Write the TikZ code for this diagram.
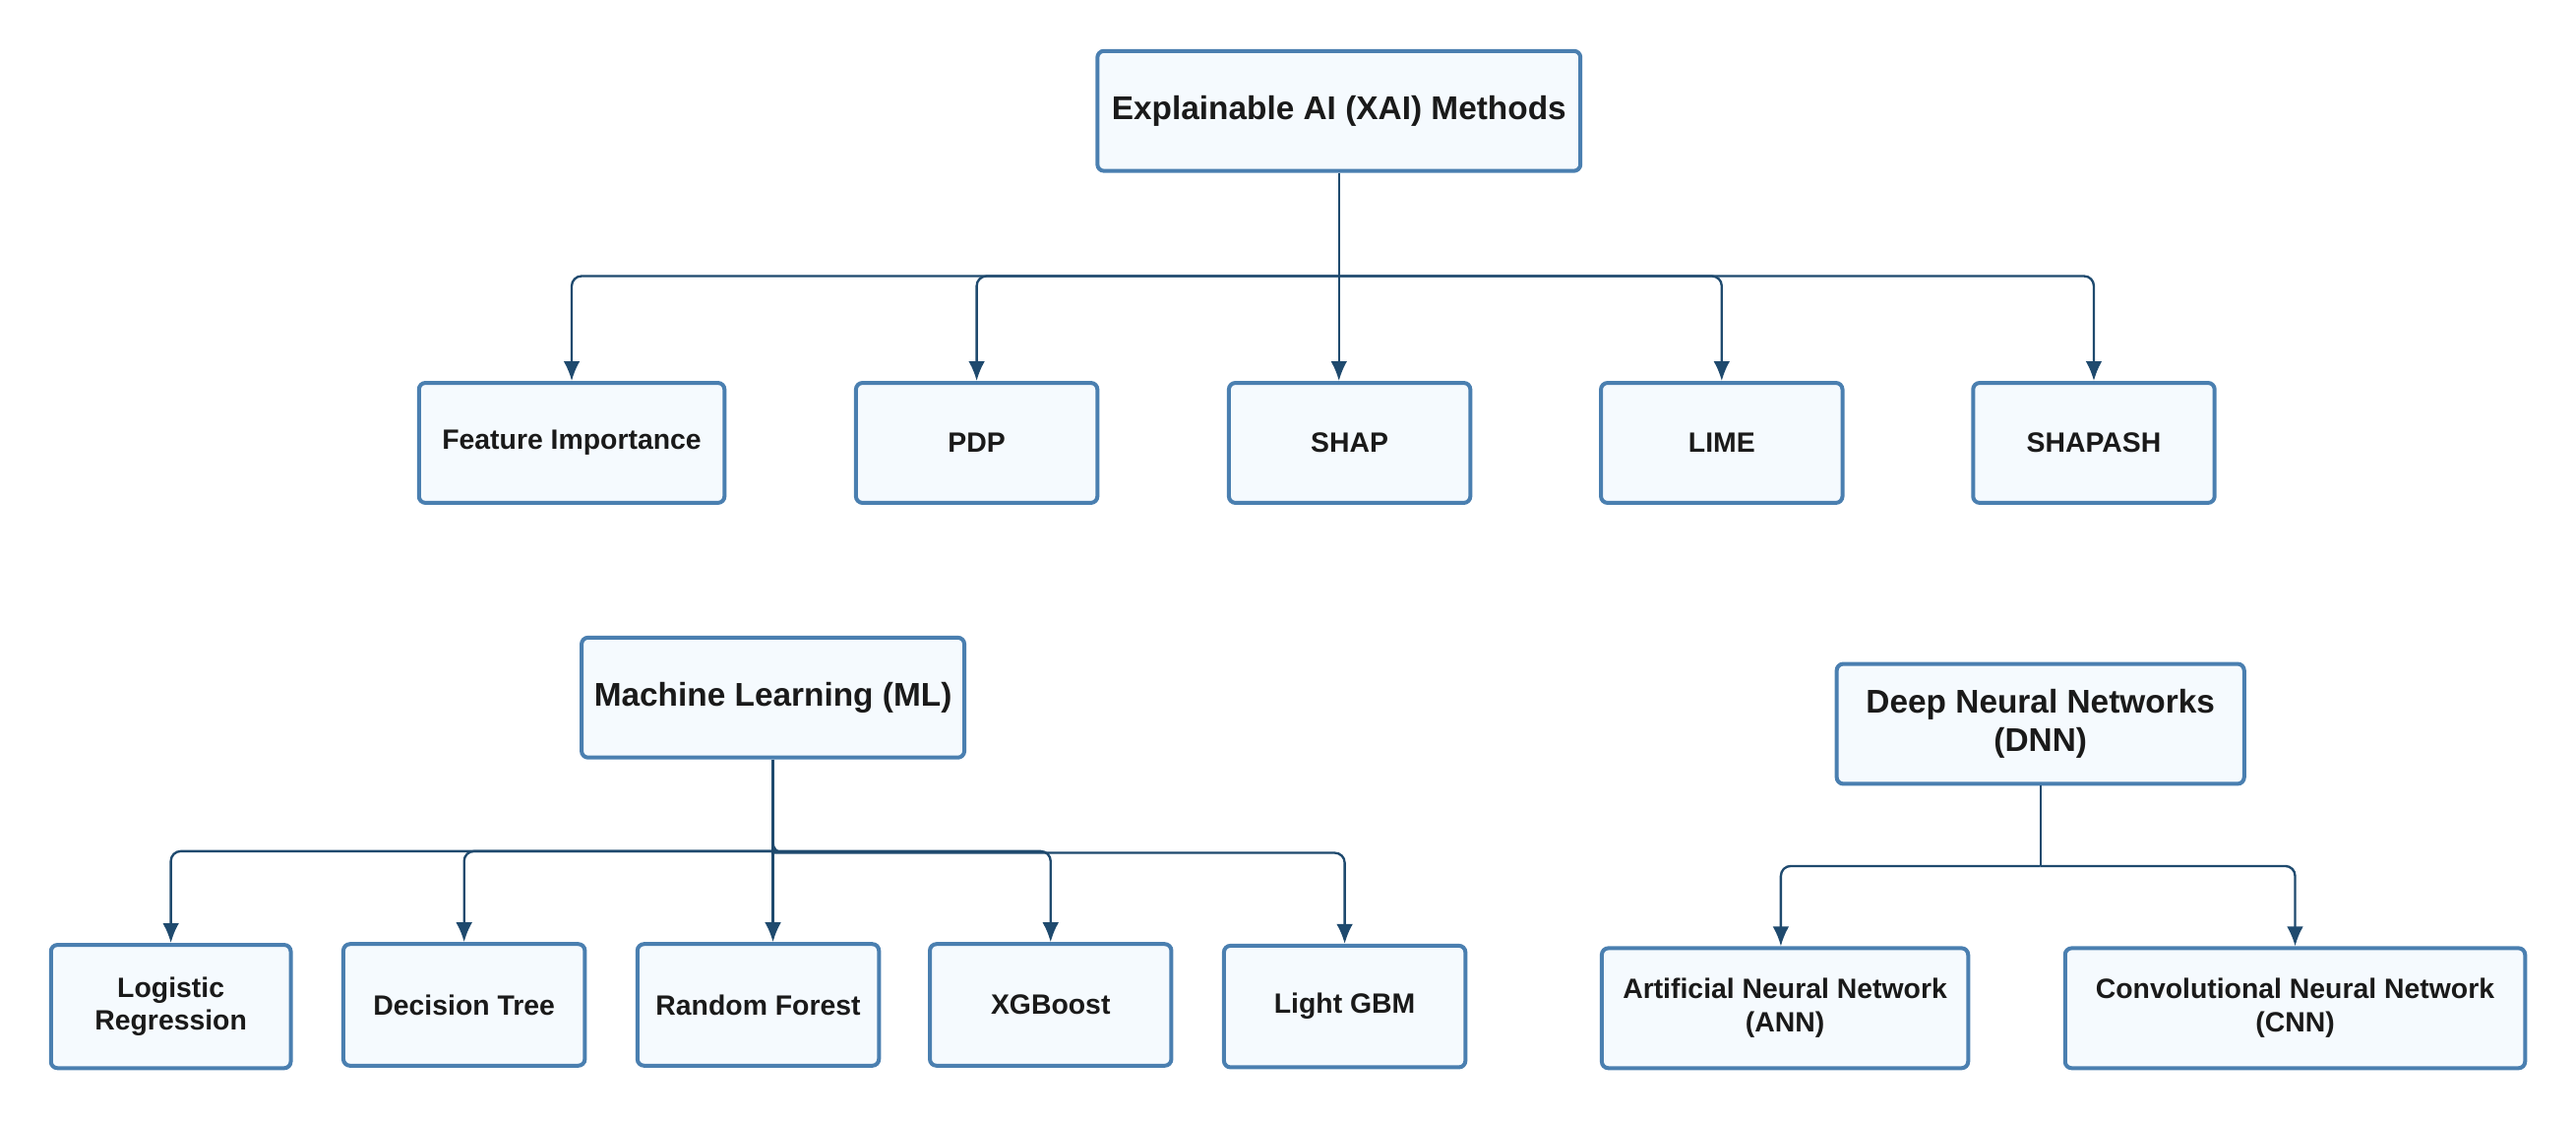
\documentclass[tikz,border=0pt]{standalone}
\usepackage{fontspec}
\setmainfont{Liberation Sans}
\usepackage{xcolor}
\usetikzlibrary{arrows.meta}
\definecolor{boxline}{HTML}{4A7FB0}
\definecolor{boxfill}{HTML}{F5FAFE}
\definecolor{wire}{HTML}{1F4A6E}
\definecolor{ink}{HTML}{1A1A1A}

\begin{document}
\begin{tikzpicture}[x=0.5pt,y=-0.5pt]
    \tikzstyle{box}=[draw=boxline,fill=boxfill,line width=1.2pt,rounded corners=2pt,align=center,text=ink,font=\bfseries\fontsize{8.5}{10}\selectfont,inner sep=0pt]
    \tikzstyle{head}=[box,font=\bfseries\fontsize{10}{11.5}\selectfont]
    \tikzstyle{edge}=[draw=wire,line width=.7pt,rounded corners=3pt,-{Latex[length=6pt,width=5pt]}]
    \tikzstyle{bus}=[draw=wire,line width=.7pt,rounded corners=3pt]
    \useasboundingbox (0,0) rectangle (1568,681.6);
    % top level
    \node[head,minimum width=147pt,minimum height=36.5pt] (xai) at (815,67.5) {Explainable AI (XAI) Methods};
    \node[box,minimum width=93pt,minimum height=36.5pt] (fi) at (348,269.5) {Feature Importance};
    \node[box,minimum width=73.5pt,minimum height=36.5pt] (pdp) at (594.5,269.5) {PDP};
    \node[box,minimum width=73.5pt,minimum height=36.5pt] (shap) at (821.5,269.5) {SHAP};
    \node[box,minimum width=73.5pt,minimum height=36.5pt] (lime) at (1048,269.5) {LIME};
    \node[box,minimum width=73.5pt,minimum height=36.5pt] (shapash) at (1274.5,269.5) {SHAPASH};
    \coordinate (xaibus) at (815,168);
    \draw[bus] (xai.south) -- (xaibus);
    \draw[edge] (xaibus) -| (fi.north);
    \draw[edge] (xaibus) -| (pdp.north);
    \draw[edge] (xaibus) -- (xaibus |- shap.north);
    \draw[edge] (xaibus) -| (lime.north);
    \draw[edge] (xaibus) -| (shapash.north);
    % machine learning
    \node[head,minimum width=116.5pt,minimum height=36.5pt] (ml) at (470.5,424.5) {Machine Learning (ML)};
    \node[box,minimum width=73pt,minimum height=37.5pt] (lr) at (104,612.5) {Logistic\\Regression};
    \node[box,minimum width=73.5pt,minimum height=37pt] (dt) at (282.5,611.5) {Decision Tree};
    \node[box,minimum width=73.5pt,minimum height=37pt] (rf) at (461.5,611.5) {Random Forest};
    \node[box,minimum width=73.5pt,minimum height=37pt] (xgb) at (639.5,611.5) {XGBoost};
    \node[box,minimum width=73.5pt,minimum height=37pt] (lgbm) at (818.5,612.5) {Light GBM};
    \coordinate (mlbus) at (470.5,518);
    \draw[bus] (ml.south) -- (mlbus);
    \draw[edge] (mlbus) -| (lr.north);
    \draw[edge] (mlbus) -| (dt.north);
    \draw[edge] (mlbus) -- (mlbus |- rf.north);
    \draw[edge] (mlbus) -| (xgb.north);
    \draw[edge] (mlbus) |- ++(5,1) -| (lgbm.north);
    % deep neural networks
    \node[head,minimum width=124pt,minimum height=36.5pt] (dnn) at (1242,440.5) {Deep Neural Networks\\(DNN)};
    \node[box,minimum width=111.5pt,minimum height=36.5pt] (ann) at (1086.5,613.5) {Artificial Neural Network\\(ANN)};
    \node[box,minimum width=140pt,minimum height=36.5pt] (cnn) at (1397,613.5) {Convolutional Neural Network\\(CNN)};
    \coordinate (dnnbus) at (1242,527);
    \draw[bus] (dnn.south) -- (dnnbus);
    \draw[edge] (dnnbus) -| ([xshift=-1.25pt]ann.north);
    \draw[edge] (dnnbus) -| (cnn.north);
\end{tikzpicture}
\end{document}
